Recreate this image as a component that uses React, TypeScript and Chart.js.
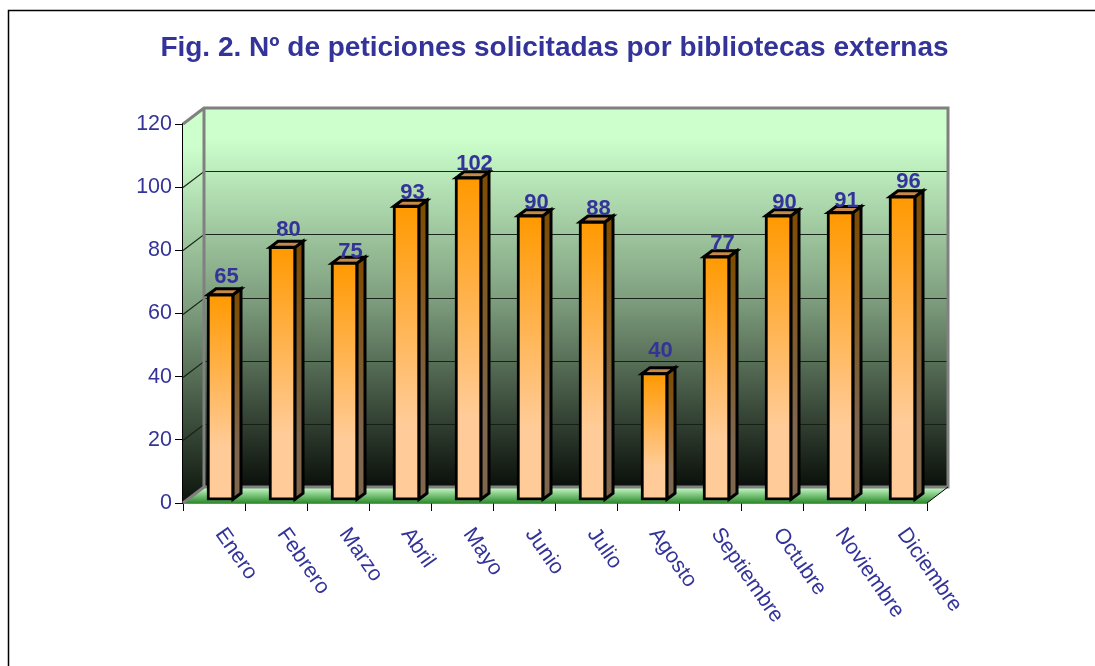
import React, { useEffect, useRef } from "react";
import { Chart, registerables } from "chart.js";

Chart.register(...registerables);

const categories = ["Enero", "Febrero", "Marzo", "Abril", "Mayo", "Junio", "Julio", "Agosto", "Septiembre", "Octubre", "Noviembre", "Diciembre"];
const peticiones = [65, 80, 75, 93, 102, 90, 88, 40, 77, 90, 91, 96];
const labelNudgeY = [0, 1, 7, 5, 4, 5, 5, -5, 5, 5, 6, 3];
const titleText = "Fig. 2. Nº de peticiones solicitadas por bibliotecas externas";

const INK = "#333399";
const FONT = "'Liberation Sans', Arial, sans-serif";

const DEPTH_X = 21;
const DEPTH_Y = 16;
const BAR_SHIFT_X = 6.5;
const BAR_SHIFT_Y = -4;
const BAR_DEPTH_X = 8;
const BAR_DEPTH_Y = 6;

const frame3d = {
  id: "frame3d",
  beforeDatasetsDraw(chart: any) {
    const { ctx, chartArea: a, scales } = chart;
    const y = scales.y;
    ctx.save();
    // page frame
    ctx.strokeStyle = "#000";
    ctx.lineWidth = 1.5;
    ctx.beginPath();
    ctx.moveTo(8.5, 666);
    ctx.lineTo(8.5, 10.5);
    ctx.lineTo(1095, 10.5);
    ctx.stroke();

    const bl = a.left + DEPTH_X;
    const br = a.right + DEPTH_X;
    const bt = a.top - DEPTH_Y;
    const bb = a.bottom - DEPTH_Y;

    const wall = ctx.createLinearGradient(0, bt, 0, bb);
    wall.addColorStop(0, "#CCFFCC");
    wall.addColorStop(0.08, "#CCFFCC");
    wall.addColorStop(0.5, "#7F9F7F");
    wall.addColorStop(1, "#0A0F0A");

    // back wall
    ctx.fillStyle = wall;
    ctx.fillRect(bl, bt, br - bl, bb - bt);

    // side wall
    const side = ctx.createLinearGradient(0, a.top - 8, 0, a.bottom - 8);
    side.addColorStop(0, "#CCFFCC");
    side.addColorStop(0.08, "#CCFFCC");
    side.addColorStop(0.5, "#7F9F7F");
    side.addColorStop(1, "#111a11");
    ctx.fillStyle = side;
    ctx.beginPath();
    ctx.moveTo(a.left, a.top);
    ctx.lineTo(bl, bt);
    ctx.lineTo(bl, bb);
    ctx.lineTo(a.left, a.bottom);
    ctx.closePath();
    ctx.fill();

    // floor
    const floor = ctx.createLinearGradient(0, bb, 0, a.bottom);
    floor.addColorStop(0, "#CCFFCC");
    floor.addColorStop(1, "#2E8B2E");
    ctx.fillStyle = floor;
    ctx.beginPath();
    ctx.moveTo(a.left, a.bottom);
    ctx.lineTo(bl, bb);
    ctx.lineTo(br, bb);
    ctx.lineTo(a.right, a.bottom);
    ctx.closePath();
    ctx.fill();

    // gridlines from the value scale
    ctx.strokeStyle = "rgba(20,30,20,0.95)";
    ctx.lineWidth = 1.2;
    y.ticks.forEach((t: any) => {
      const py = Math.round(y.getPixelForValue(t.value)) + 0.5;
      if (t.value === 0 || t.value === 120) return;
      ctx.beginPath();
      ctx.moveTo(a.left, py);
      ctx.lineTo(bl, py - DEPTH_Y);
      ctx.lineTo(br, py - DEPTH_Y);
      ctx.stroke();
    });

    // wall edges
    ctx.strokeStyle = "#808080";
    ctx.lineWidth = 3;
    ctx.beginPath();
    ctx.moveTo(a.left, a.top);
    ctx.lineTo(bl, bt);
    ctx.lineTo(br, bt);
    ctx.lineTo(br, bb);
    ctx.lineTo(bl, bb);
    ctx.lineTo(bl, bt);
    ctx.moveTo(bl, bb);
    ctx.lineTo(a.left, a.bottom);
    ctx.stroke();

    // floor front-right edge
    ctx.strokeStyle = "#000";
    ctx.lineWidth = 1;
    ctx.beginPath();
    ctx.moveTo(a.right, a.bottom);
    ctx.lineTo(br, bb);
    ctx.stroke();
    ctx.restore();
  },
  beforeDatasetDraw(chart: any, args: any) {
    const { ctx } = chart;
    const meta = chart.getDatasetMeta(args.index);
    ctx.save();
    ctx.translate(BAR_SHIFT_X, BAR_SHIFT_Y);
    ctx.strokeStyle = "#000";
    ctx.lineWidth = 3;
    ctx.lineJoin = "miter";
    meta.data.forEach((el: any) => {
      const hw = el.width / 2;
      const r = el.x + hw - 1;
      const l = el.x - hw + 1;
      // side face
      const g = ctx.createLinearGradient(0, el.y, 0, el.base);
      g.addColorStop(0, "#7F4C00");
      g.addColorStop(0.75, "#7F664D");
      g.addColorStop(1, "#7F664D");
      ctx.fillStyle = g;
      ctx.beginPath();
      ctx.moveTo(r, el.y + 1);
      ctx.lineTo(r + BAR_DEPTH_X, el.y + 1 - BAR_DEPTH_Y);
      ctx.lineTo(r + BAR_DEPTH_X, el.base - 1 - BAR_DEPTH_Y);
      ctx.lineTo(r, el.base - 1);
      ctx.closePath();
      ctx.fill();
      ctx.stroke();
      // top face
      ctx.fillStyle = "#C68A4A";
      ctx.beginPath();
      ctx.moveTo(l, el.y + 1);
      ctx.lineTo(l + BAR_DEPTH_X, el.y + 1 - BAR_DEPTH_Y);
      ctx.lineTo(r + BAR_DEPTH_X, el.y + 1 - BAR_DEPTH_Y);
      ctx.lineTo(r, el.y + 1);
      ctx.closePath();
      ctx.fill();
      ctx.stroke();
    });
  },
  afterDatasetDraw(chart: any) {
    chart.ctx.restore();
  },
  afterDatasetsDraw(chart: any) {
    const { ctx } = chart;
    const meta = chart.getDatasetMeta(0);
    ctx.save();
    ctx.fillStyle = INK;
    ctx.font = `bold 22px ${FONT}`;
    ctx.textAlign = "center";
    ctx.textBaseline = "alphabetic";
    meta.data.forEach((el: any, i: number) => {
      ctx.fillText(String(peticiones[i]), el.x + BAR_SHIFT_X + 6, el.y + BAR_SHIFT_Y - 11 + labelNudgeY[i]);
    });
    ctx.restore();
  },
  beforeDraw(chart: any) {
    // widen the title box so its text keeps its natural width
    if (chart.titleBlock) {
      chart.titleBlock.left = 14;
      chart.titleBlock.right = 1095;
      chart.titleBlock.width = 1081;
    }
    const items = chart.scales.x.getLabelItems();
    items.forEach((it: any) => {
      it.options.textAlign = "left";
      it.options.textBaseline = "middle";
      const t = it.options.translation;
      if (!it._moved) {
        it.options.translation = [t[0] + 5.5, chart.chartArea.bottom + 20];
        it._moved = true;
      }
    });
  },
};

export default function App() {
  const ref = useRef<HTMLCanvasElement>(null);
  useEffect(() => {
    const chart = new Chart(ref.current!, {
      type: "bar",
      data: {
        labels: categories,
        datasets: [
          {
            label: "Peticiones",
            data: peticiones,
            base: -0.4,
            barThickness: 27,
            borderWidth: 3,
            borderColor: "#000",
            borderSkipped: false,
            clip: false,
            backgroundColor: (c: any) => {
              const sc = c.chart.scales.y;
              if (!sc || c.raw === undefined) return "#FF9900";
              const top = sc.getPixelForValue(c.raw);
              const base = sc.getPixelForValue(0);
              if (!Number.isFinite(top) || !Number.isFinite(base)) return "#FF9900";
              const g = c.chart.ctx.createLinearGradient(0, top, 0, base);
              g.addColorStop(0, "#FF9900");
              g.addColorStop(0.75, "#FFCC99");
              g.addColorStop(1, "#FFCC99");
              return g;
            },
          } as any,
        ],
      },
      options: {
        animation: false,
        responsive: false,
        layout: { padding: { left: 0, right: 168, top: 0, bottom: 0 } },
        plugins: {
          legend: { display: false },
          tooltip: { enabled: false },
          title: {
            display: true,
            text: titleText,
            color: INK,
            fullSize: false,
            font: { family: FONT, size: 28, weight: "bold" },
            padding: { top: 31, bottom: 59.4 },
          } as any,
        },
        scales: {
          x: {
            offset: true,
            grid: { display: true, drawOnChartArea: false, drawTicks: true, tickLength: 8, color: "#000" },
            border: { display: true, color: "#000", width: 1.5 },
            ticks: {
              color: INK,
              font: { family: FONT, size: 21.5 },
              minRotation: -55,
              maxRotation: -55,
              autoSkip: false,
              padding: 10,
            },
            afterFit: (s: any) => {
              s.height = 163;
            },
          },
          y: {
            min: 0,
            max: 120,
            grid: { display: true, drawOnChartArea: false, drawTicks: true, tickLength: 8, color: "#000" },
            border: { display: true, color: "#000", width: 1.5 },
            ticks: {
              stepSize: 20,
              color: INK,
              font: { family: FONT, size: 21.5 },
              padding: 3,
            },
            afterFit: (s: any) => {
              s.width = 183;
            },
          },
        },
      },
      plugins: [frame3d],
    } as any);
    return () => chart.destroy();
  }, []);
  return (
    <canvas
      ref={ref}
      width={1095}
      height={666}
      style={{ position: "fixed", left: 0, top: 0, width: 1095, height: 666, display: "block" }}
    />
  );
}
